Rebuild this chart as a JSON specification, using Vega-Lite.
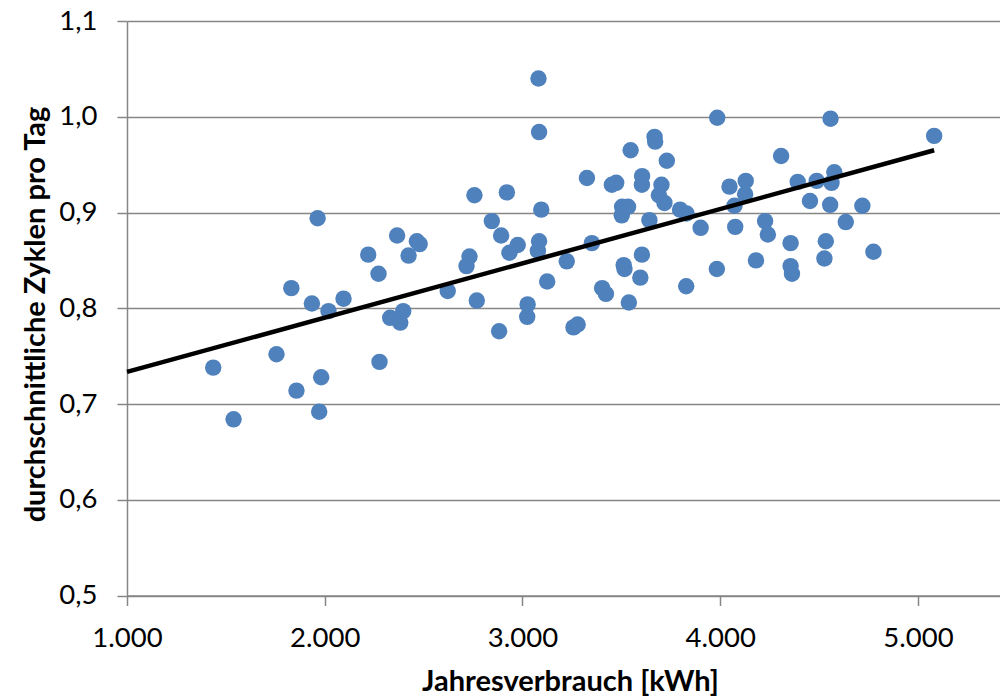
{
  "$schema": "https://vega.github.io/schema/vega-lite/v6.json",
  "width": 873,
  "height": 574.5,
  "autosize": "none",
  "padding": {"left": 127, "top": 21, "right": 0, "bottom": 102},
  "background": "white",
  "config": {"view": {"stroke": null}, "font": "Lato"},
  "datasets": {
    "points": [
      {"kwh": 1436, "zyklen": 0.738}, {"kwh": 1539, "zyklen": 0.684}, {"kwh": 1756, "zyklen": 0.752},
      {"kwh": 1831, "zyklen": 0.821}, {"kwh": 1857, "zyklen": 0.714}, {"kwh": 1935, "zyklen": 0.805},
      {"kwh": 1964, "zyklen": 0.894}, {"kwh": 1982, "zyklen": 0.728}, {"kwh": 1972, "zyklen": 0.692},
      {"kwh": 2019, "zyklen": 0.797}, {"kwh": 2095, "zyklen": 0.810}, {"kwh": 2220, "zyklen": 0.856},
      {"kwh": 2272, "zyklen": 0.836}, {"kwh": 2277, "zyklen": 0.744}, {"kwh": 2331, "zyklen": 0.790},
      {"kwh": 2366, "zyklen": 0.876}, {"kwh": 2382, "zyklen": 0.785}, {"kwh": 2397, "zyklen": 0.797},
      {"kwh": 2424, "zyklen": 0.855}, {"kwh": 2466, "zyklen": 0.870}, {"kwh": 2480, "zyklen": 0.867},
      {"kwh": 2622, "zyklen": 0.818}, {"kwh": 2717, "zyklen": 0.844}, {"kwh": 2732, "zyklen": 0.854},
      {"kwh": 2757, "zyklen": 0.918}, {"kwh": 2769, "zyklen": 0.808}, {"kwh": 2845, "zyklen": 0.891},
      {"kwh": 2882, "zyklen": 0.776}, {"kwh": 2892, "zyklen": 0.876}, {"kwh": 2921, "zyklen": 0.921},
      {"kwh": 2934, "zyklen": 0.858}, {"kwh": 2976, "zyklen": 0.866}, {"kwh": 3026, "zyklen": 0.804},
      {"kwh": 3024, "zyklen": 0.791}, {"kwh": 3081, "zyklen": 1.040}, {"kwh": 3084, "zyklen": 0.984},
      {"kwh": 3095, "zyklen": 0.903}, {"kwh": 3084, "zyklen": 0.870}, {"kwh": 3078, "zyklen": 0.860},
      {"kwh": 3125, "zyklen": 0.828}, {"kwh": 3224, "zyklen": 0.849}, {"kwh": 3258, "zyklen": 0.780},
      {"kwh": 3279, "zyklen": 0.783}, {"kwh": 3326, "zyklen": 0.936}, {"kwh": 3351, "zyklen": 0.868},
      {"kwh": 3403, "zyklen": 0.821}, {"kwh": 3422, "zyklen": 0.815}, {"kwh": 3452, "zyklen": 0.929},
      {"kwh": 3474, "zyklen": 0.931}, {"kwh": 3504, "zyklen": 0.906}, {"kwh": 3534, "zyklen": 0.906},
      {"kwh": 3502, "zyklen": 0.897}, {"kwh": 3512, "zyklen": 0.845}, {"kwh": 3516, "zyklen": 0.841},
      {"kwh": 3538, "zyklen": 0.806}, {"kwh": 3547, "zyklen": 0.965}, {"kwh": 3596, "zyklen": 0.832},
      {"kwh": 3605, "zyklen": 0.938}, {"kwh": 3604, "zyklen": 0.929}, {"kwh": 3604, "zyklen": 0.856},
      {"kwh": 3642, "zyklen": 0.892}, {"kwh": 3668, "zyklen": 0.979}, {"kwh": 3671, "zyklen": 0.974},
      {"kwh": 3703, "zyklen": 0.929}, {"kwh": 3690, "zyklen": 0.918}, {"kwh": 3718, "zyklen": 0.910},
      {"kwh": 3730, "zyklen": 0.954}, {"kwh": 3797, "zyklen": 0.903}, {"kwh": 3830, "zyklen": 0.899},
      {"kwh": 3828, "zyklen": 0.823}, {"kwh": 3901, "zyklen": 0.884}, {"kwh": 3985, "zyklen": 0.999},
      {"kwh": 3983, "zyklen": 0.841}, {"kwh": 4047, "zyklen": 0.927}, {"kwh": 4072, "zyklen": 0.907},
      {"kwh": 4076, "zyklen": 0.885}, {"kwh": 4129, "zyklen": 0.933}, {"kwh": 4126, "zyklen": 0.919},
      {"kwh": 4181, "zyklen": 0.850}, {"kwh": 4227, "zyklen": 0.891}, {"kwh": 4241, "zyklen": 0.877},
      {"kwh": 4308, "zyklen": 0.959}, {"kwh": 4356, "zyklen": 0.868}, {"kwh": 4356, "zyklen": 0.844},
      {"kwh": 4363, "zyklen": 0.836}, {"kwh": 4392, "zyklen": 0.932}, {"kwh": 4454, "zyklen": 0.912},
      {"kwh": 4488, "zyklen": 0.933}, {"kwh": 4527, "zyklen": 0.852}, {"kwh": 4534, "zyklen": 0.870},
      {"kwh": 4558, "zyklen": 0.998}, {"kwh": 4556, "zyklen": 0.908}, {"kwh": 4563, "zyklen": 0.931},
      {"kwh": 4577, "zyklen": 0.942}, {"kwh": 4635, "zyklen": 0.890}, {"kwh": 4719, "zyklen": 0.907},
      {"kwh": 4775, "zyklen": 0.859}, {"kwh": 5082, "zyklen": 0.980}
    ],
    "trend": [
      {"kwh": 1000, "zyklen": 0.7335},
      {"kwh": 5082, "zyklen": 0.965}
    ]
  },
  "encoding": {
    "x": {
      "field": "kwh",
      "type": "quantitative",
      "scale": {"domain": [1000, 5415], "nice": false, "zero": false},
      "axis": {
        "title": "Jahresverbrauch [kWh]",
        "values": [1000, 2000, 3000, 4000, 5000],
        "labelExpr": "replace(format(datum.value, ','), ',', '.')",
        "grid": false,
        "domainColor": "#868686",
        "domainWidth": 1.5,
        "tickColor": "#868686",
        "tickWidth": 1.5,
        "tickSize": 10,
        "labelFont": "Lato",
        "labelFontSize": 27.5,
        "labelColor": "#000000",
        "labelPadding": 19,
        "labelFlush": false,
        "labelOverlap": false,
        "titleFont": "Lato",
        "titleFontSize": 29,
        "titleFontWeight": "bold",
        "titleColor": "#000000",
        "titleBaseline": "alphabetic",
        "titleAnchor": "middle",
        "titleX": 443,
        "titleY": 95
      }
    },
    "y": {
      "field": "zyklen",
      "type": "quantitative",
      "scale": {"domain": [0.5, 1.1], "nice": false, "zero": false},
      "axis": {
        "title": "durchschnittliche Zyklen pro Tag",
        "values": [0.5, 0.6, 0.7, 0.8, 0.9, 1.0, 1.1],
        "labelExpr": "replace(format(datum.value, '.1f'), '.', ',')",
        "grid": true,
        "gridColor": "#868686",
        "gridWidth": 1.5,
        "domainColor": "#868686",
        "domainWidth": 1.5,
        "tickColor": "#868686",
        "tickWidth": 1.5,
        "tickSize": 10,
        "labelFont": "Lato",
        "labelFontSize": 27.5,
        "labelColor": "#000000",
        "labelPadding": 20,
        "labelFlush": false,
        "labelOverlap": false,
        "titleFont": "Lato",
        "titleFontSize": 29,
        "titleFontWeight": "bold",
        "titleColor": "#000000",
        "titleAngle": -90,
        "titleBaseline": "alphabetic",
        "titleAnchor": "middle",
        "titleX": -83,
        "titleY": 293
      }
    }
  },
  "layer": [
    {
      "data": {"name": "points"},
      "mark": {"type": "circle", "size": 270, "color": "#4F81BD", "opacity": 1}
    },
    {
      "data": {"name": "trend"},
      "mark": {"type": "line", "color": "#000000", "strokeWidth": 4.5}
    }
  ]
}
